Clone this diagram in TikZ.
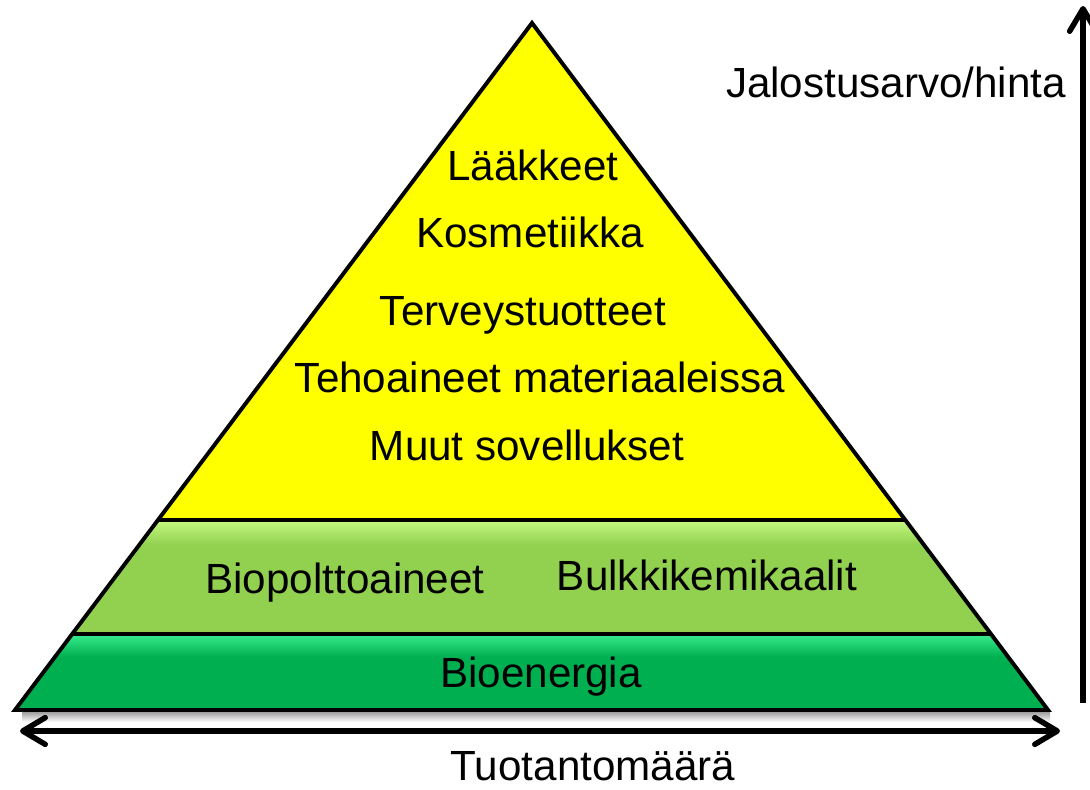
\documentclass[tikz,border=0pt]{standalone}
\usepackage{fontspec}
\setmainfont{Liberation Sans}
\usetikzlibrary{calc}
\usetikzlibrary{arrows.meta}
\usepackage{xcolor}

\definecolor{topyellow}{RGB}{255,255,0}
\definecolor{midgreen}{RGB}{146,208,80}
\definecolor{midgreenlight}{RGB}{196,250,128}
\definecolor{basegreen}{RGB}{0,176,80}
\definecolor{basegreenlight}{RGB}{56,236,140}
\pgfdeclareverticalshading{midband}{100bp}{color(0bp)=(midgreen); color(25bp)=(midgreen); color(64bp)=(midgreen); color(75bp)=(midgreenlight); color(100bp)=(midgreenlight)}
\pgfdeclareverticalshading{baseband}{100bp}{color(0bp)=(basegreen); color(25bp)=(basegreen); color(60bp)=(basegreen); color(75bp)=(basegreenlight); color(100bp)=(basegreenlight)}

\begin{document}
\begin{tikzpicture}[x=0.025cm, y=-0.025cm,
    every node/.style={font=\fontsize{30}{36}\selectfont, anchor=base, inner sep=0pt},
    layer/.style={draw=black, line width=2.8pt, line join=miter},
    axisline/.style={line width=3.9pt, arrows={-Straight Barb[length=16pt, width=19pt, line cap=round, line join=round]}}]
    \useasboundingbox (0,0) rectangle (1090,789);
    % pyramid corners
    \coordinate (apex) at (532,23);
    \coordinate (bl) at (15,710);
    \coordinate (br) at (1048,710);
    \coordinate (ml) at ($(bl)!0.1106!(apex)$);
    \coordinate (mr) at ($(br)!0.1106!(apex)$);
    \coordinate (tl) at ($(bl)!0.2766!(apex)$);
    \coordinate (tr) at ($(br)!0.2766!(apex)$);

    % shadow under the base
    \shade[top color=black!45, bottom color=white] (22,710) rectangle (1050,722);

    % layers
    \fill[topyellow] (apex) -- (tl) -- (tr) -- cycle;
    \shade[shading=midband] (tl) -- (ml) -- (mr) -- (tr) -- cycle;
    \shade[shading=baseband] (ml) -- (bl) -- (br) -- (mr) -- cycle;
    \draw[layer] (apex) -- (bl) -- (br) -- cycle;
    \draw[line width=2.2pt] (tl) -- (tr);
    \draw[line width=2.2pt] (ml) -- (mr);

    % top layer
    \node (laak) at (533,180) {Lääkkeet};
    \node (kosm) at (530,247) {Kosmetiikka};
    \node (terv) at (523,325) {Terveystuotteet};
    \node (teho) at (540,392) {Tehoaineet materiaaleissa};
    \node (muut) at (527,460) {Muut sovellukset};
    % middle layer
    \node (biop) at (345,593) {Biopolttoaineet};
    \node (bulk) at (707,590) {Bulkkikemikaalit};
    % base layer
    \node (bioe) at (541,687) {Bioenergia};

    % axes
    \coordinate (xl) at (20,731);
    \coordinate (xr) at (1060,731);
    \coordinate (yb) at (1083,703);
    \coordinate (yt) at (1083,6);
    \draw[axisline, arrows={Straight Barb[length=16pt, width=19pt, line cap=round, line join=round]-Straight Barb[length=16pt, width=19pt, line cap=round, line join=round]}] (xl) -- (xr);
    \draw[axisline] (yb) -- (yt);
    \node (tuot) at (593,780) {Tuotantomäärä};
    \node (jalo) at (896,97) {Jalostusarvo/hinta};
\end{tikzpicture}
\end{document}
